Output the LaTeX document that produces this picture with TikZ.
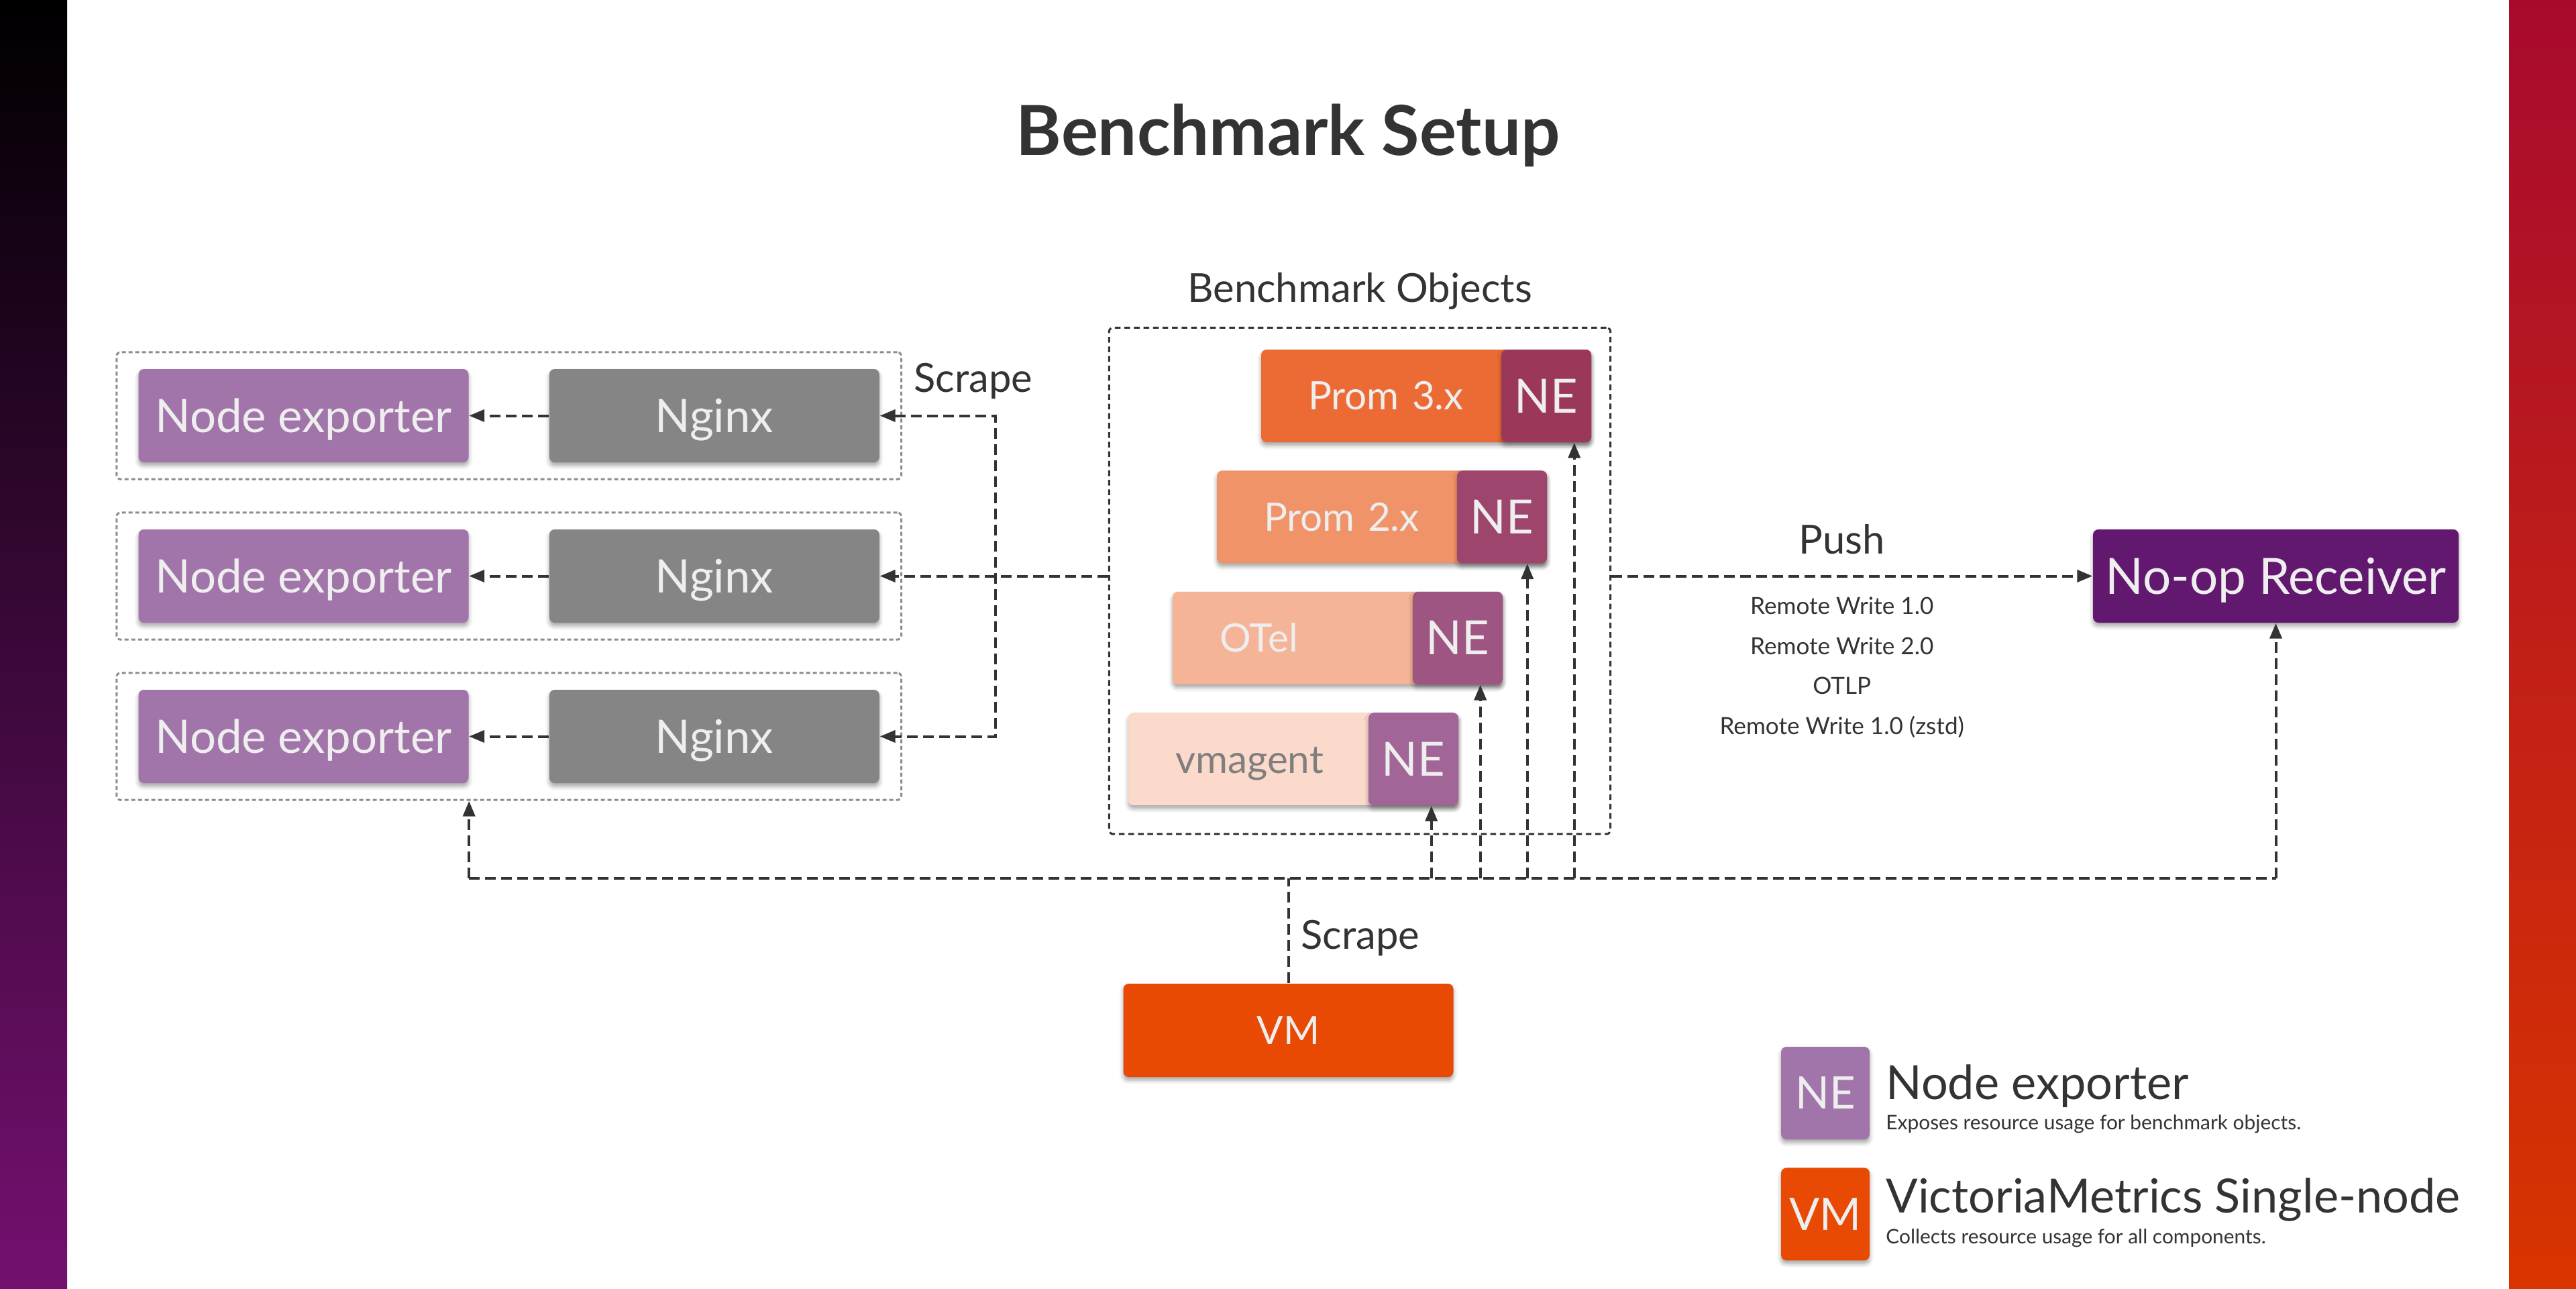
\documentclass[tikz,border=0pt]{standalone}
\usepackage{fontspec}
\setmainfont{Lato}
\usetikzlibrary{arrows.meta}
\usetikzlibrary{calc,shadows.blur,fit,positioning}

\definecolor{ink}{HTML}{333333}
\definecolor{boxtxt}{HTML}{EEEEEE}
\definecolor{necol}{HTML}{A175A9}
\definecolor{ngxcol}{HTML}{858585}
\definecolor{grpcol}{HTML}{8C8C8C}
\definecolor{prom3col}{HTML}{EC6B35}
\definecolor{prom2col}{HTML}{F19369}
\definecolor{otelcol}{HTML}{F5B497}
\definecolor{vmacol}{HTML}{FBDACC}
\definecolor{vmatxt}{HTML}{7F7F7F}
\definecolor{ne3col}{HTML}{9B3759}
\definecolor{ne2col}{HTML}{9D456D}
\definecolor{neocol}{HTML}{9F5581}
\definecolor{nevcol}{HTML}{A16597}
\definecolor{vmcol}{HTML}{E84A04}
\definecolor{noopcol}{HTML}{62186F}
\definecolor{leftmid}{HTML}{4E1380}
\definecolor{leftbot}{HTML}{741070}
\definecolor{righttop}{HTML}{A80A2E}
\definecolor{rightmid}{HTML}{C50500}
\definecolor{rightbot}{HTML}{D93400}

\begin{document}
\begin{tikzpicture}[
  >={Triangle[length=0.23cm, width=0.18cm]},
  box/.style={rectangle, rounded corners=0.08cm, minimum width=4.92cm, minimum height=1.39cm, inner sep=0pt,
    text=boxtxt, font=\fontsize{19.6}{23}\selectfont, text height=14pt, text depth=0pt,
    blur shadow={shadow xshift=0cm, shadow yshift=-0.05cm, shadow blur radius=0.06cm, shadow opacity=35}},
  bar/.style={box, text width=3.52cm, align=left, inner xsep=0.7cm, minimum height=1.38cm,
    font=\fontsize{16.6}{20}\selectfont, text height=11.9pt},
  ne/.style={box, minimum width=1.34cm, minimum height=1.38cm, font=\fontsize{20}{24}\selectfont, text height=14.3pt},
  grp/.style={draw=grpcol, line width=0.03cm, dash pattern=on 0.06cm off 0.04cm, rounded corners=0.06cm,
    inner xsep=0.32cm, inner ysep=0.245cm},
  conn/.style={draw=ink, line width=0.04cm, dash pattern=on 0.16cm off 0.08cm},
  lbl/.style={text=ink, font=\fontsize{17}{20}\selectfont, inner sep=0pt},
  legtxt/.style={text=ink, font=\fontsize{20}{24}\selectfont, inner sep=0pt, anchor=base west},
  legsub/.style={text=ink, font=\fontsize{8.5}{10}\selectfont, inner sep=0pt, anchor=base west}]

  % side bars
  \shade[top color=black, middle color=leftmid, bottom color=leftbot] (0,0) rectangle (1,-19.2);
  \shade[top color=righttop, middle color=rightmid, bottom color=rightbot] (37.4,0) rectangle (38.4,-19.2);
  \useasboundingbox (0,0) rectangle (38.4,-19.2);

  \node[text=ink, font=\fontsize{29.3}{35}\selectfont\bfseries, anchor=base] (title) at (19.2,-2.32) {Benchmark Setup};

  % nginx targets
  \foreach \i in {1,2,3} {
    \node[box, fill=necol] (ne\i) at (4.525,{-6.195-2.39*(\i-1)}) {Node exporter};
    \node[box, fill=ngxcol, right=1.19cm of ne\i] (ngx\i) {Nginx};
    \node[grp, fit=(ne\i)(ngx\i)] (grp\i) {};
    \draw[conn, ->] (ngx\i) -- (ne\i);
  }

  % benchmark objects
  \node[bar, fill=prom3col] (p3) at (21.26,-5.90) {Prom 3.x};
  \node[bar, fill=prom2col, below=0.41cm of p3, xshift=-0.66cm] (p2) {Prom 2.x};
  \node[bar, fill=otelcol, below=0.41cm of p2, xshift=-0.66cm] (ot) {OTel};
  \node[bar, fill=vmacol, text=vmatxt, below=0.41cm of ot, xshift=-0.66cm] (vma) {vmagent};
  \node[ne, fill=ne3col, anchor=east] (p3ne) at (p3.east) {NE};
  \node[ne, fill=ne2col, anchor=east] (p2ne) at (p2.east) {NE};
  \node[ne, fill=neocol, anchor=east] (otne) at (ot.east) {NE};
  \node[ne, fill=nevcol, anchor=east] (vmane) at (vma.east) {NE};
  \coordinate[below=0.1cm of vma] (benchbot);
  \node[draw=ink, line width=0.03cm, dash pattern=on 0.085cm off 0.057cm, rounded corners=0.06cm,
    fit=(p3)(vma)(benchbot), inner xsep=0.28cm, inner ysep=0.32cm] (bench) {};
  \node[lbl, above=0.25cm of bench] (benchlbl) {Benchmark Objects};

  % scrape nginx
  \node[lbl, anchor=base west] (scr1) at ([xshift=0.5cm, yshift=-0.35cm]ngx1.north east) {Scrape};
  \coordinate (split) at ([xshift=1.72cm]ngx1.east);
  \draw[conn, <->] (ngx1.east) -- (split) -- (split |- ngx3.east) -- (ngx3.east);
  \draw[conn, ->] (bench.west |- ngx2.east) -- (ngx2.east);

  % push
  \node[box, fill=noopcol, minimum width=5.45cm, font=\fontsize{21.2}{25}\selectfont, text height=15.2pt] (noop) at (33.925,-8.585) {No-op Receiver};
  \draw[conn, ->] (bench.east |- noop.west) -- (noop.west);
  \node[lbl, anchor=base] (push) at ($(bench.east |- noop.west)!0.5!(noop.west) + (-0.15,0.33)$) {Push};
  \foreach \t [count=\k] in {Remote Write 1.0, Remote Write 2.0, OTLP, Remote Write 1.0 (zstd)}
    \node[lbl, font=\fontsize{10}{12}\selectfont, anchor=base] (rw\k) at ($(push.base) + (0,{-0.9-0.597*(\k-1)})$) {\t};

  % vm scrapes everything
  \node[box, fill=vmcol, font=\fontsize{16.6}{20}\selectfont, text height=11.9pt] (vm) at (19.205,-15.355) {VM};
  \coordinate[above=1.56cm of vm.north] (bus);
  \draw[conn] (vm.north) -- (bus);
  \node[lbl, anchor=base west] (scr2) at ([xshift=0.18cm, yshift=0.51cm]vm.north) {Scrape};
  \draw[conn] (ne3.east |- bus) -- (noop.south |- bus);
  \draw[conn, ->] (ne3.east |- bus) -- (ne3.east |- grp3.south);
  \foreach \n/\d in {vmane/0.41, otne/0.34, p2ne/0.30, p3ne/0.26} {
    \coordinate (t\n) at ([xshift=-\d cm]\n.south east);
    \draw[conn, ->] (t\n |- bus) -- (t\n);
  }
  \draw[conn, ->] (noop.south |- bus) -- (noop.south);

  % legend
  \node[ne, fill=necol, minimum width=1.32cm, font=\fontsize{19}{23}\selectfont, text height=13.6pt] (legne) at (27.21,-16.29) {NE};
  \node[ne, fill=vmcol, minimum width=1.32cm, font=\fontsize{19}{23}\selectfont, text height=13.6pt, below=0.41cm of legne] (legvm) {VM};
  \node[legtxt] (legnet) at ([xshift=0.23cm, yshift=-0.09cm]legne.east) {Node exporter};
  \node[legsub] (legnes) at ([xshift=0.23cm, yshift=-0.54cm]legne.east) {Exposes resource usage for benchmark objects.};
  \node[legtxt] (legvmt) at ([xshift=0.23cm, yshift=0.015cm]legvm.east) {VictoriaMetrics Single-node};
  \node[legsub] (legvms) at ([xshift=0.23cm, yshift=-0.445cm]legvm.east) {Collects resource usage for all components.};
\end{tikzpicture}
\end{document}
